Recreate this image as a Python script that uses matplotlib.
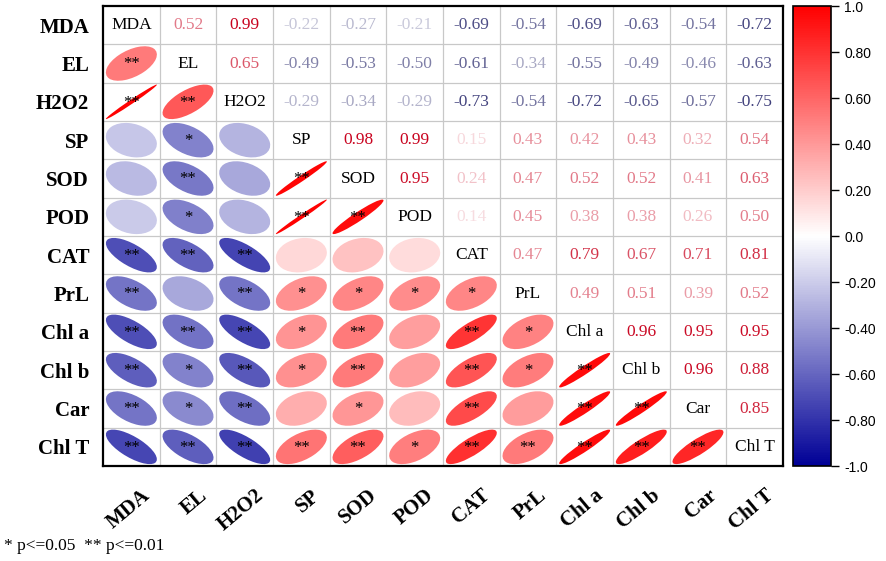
import numpy as np
import matplotlib.pyplot as plt
import matplotlib.transforms as mtransforms
from matplotlib.patches import Ellipse
from matplotlib.colors import LinearSegmentedColormap, Normalize
from matplotlib.colorbar import ColorbarBase

# ================= data =================
labels = ['MDA', 'EL', 'H2O2', 'SP', 'SOD', 'POD', 'CAT', 'PrL', 'Chl a', 'Chl b', 'Car', 'Chl T']

# upper triangle, row by row (values right of the diagonal)
upper_rows = [
    [0.52, 0.99, -0.22, -0.27, -0.21, -0.69, -0.54, -0.69, -0.63, -0.54, -0.72],
    [0.65, -0.49, -0.53, -0.50, -0.61, -0.34, -0.55, -0.49, -0.46, -0.63],
    [-0.29, -0.34, -0.29, -0.73, -0.54, -0.72, -0.65, -0.57, -0.75],
    [0.98, 0.99, 0.15, 0.43, 0.42, 0.43, 0.32, 0.54],
    [0.95, 0.24, 0.47, 0.52, 0.52, 0.41, 0.63],
    [0.14, 0.45, 0.38, 0.38, 0.26, 0.50],
    [0.47, 0.79, 0.67, 0.71, 0.81],
    [0.49, 0.51, 0.39, 0.52],
    [0.96, 0.95, 0.95],
    [0.96, 0.88],
    [0.85],
]

# significance marks, lower triangle row by row (left of the diagonal)
sig_rows = [
    [],
    ['**'],
    ['**', '**'],
    ['', '*', ''],
    ['', '**', '', '**'],
    ['', '*', '', '**', '**'],
    ['**', '**', '**', '', '', ''],
    ['**', '', '**', '*', '*', '*', '*'],
    ['**', '**', '**', '*', '**', '', '**', '*'],
    ['**', '*', '**', '*', '**', '', '**', '*', '**'],
    ['**', '*', '**', '', '*', '', '**', '', '**', '**'],
    ['**', '**', '**', '**', '**', '*', '**', '**', '**', '**', '**'],
]

cbar_ticks = [-1.0, -0.8, -0.6, -0.4, -0.2, 0.0, 0.2, 0.4, 0.6, 0.8, 1.0]
cbar_ticklabels = ['-1.0', '-0.80', '-0.60', '-0.40', '-0.20', '0.0', '0.20', '0.40', '0.60', '0.80', '1.0']

n = len(labels)
corr = np.eye(n)
for i, row in enumerate(upper_rows):
    for k, v in enumerate(row):
        j = i + 1 + k
        corr[i, j] = v
        corr[j, i] = v

# ================= style =================
serif = ['Liberation Serif', 'DejaVu Serif']
cmap = LinearSegmentedColormap.from_list('bwr_corr', ['#000096', '#ffffff', '#ff0000'])
# numbers use a slightly muted version of the same scale
text_cmap = LinearSegmentedColormap.from_list('txt_corr', ['#000050', '#ffffff', '#c8001c'])
norm = Normalize(-1, 1)

fig = plt.figure(figsize=(8.86, 5.61), dpi=100)
ax = fig.add_axes([0.1163, 0.1693, 0.7674, 0.82])

# grid lines
for k in range(1, n):
    ax.axhline(k, color='#c8c8c8', lw=0.9, zorder=1)
    ax.axvline(k, color='#c8c8c8', lw=0.9, zorder=1)

for i in range(n):
    for j in range(n):
        r = corr[i, j]
        cx, cy = j + 0.5, i + 0.5
        if i == j:
            ax.text(cx, cy, labels[i], ha='center', va='center', fontsize=12.5,
                    family=serif, color='black', zorder=4)
        elif j > i:
            ax.text(cx, cy, f'{r:.2f}', ha='center', va='center', fontsize=12.5,
                    family=serif, color=text_cmap(norm(r)), zorder=4)
        else:
            w = 0.9 * np.sqrt(1 + abs(r))
            h = 0.9 * np.sqrt(max(1 - abs(r), 0.01))
            # y axis is inverted: positive r must lean up to the right
            ang = -45 if r > 0 else 45
            ax.add_patch(Ellipse((cx, cy), w, h, angle=ang, facecolor=cmap(norm(r)),
                                 edgecolor='none', zorder=2))
            s = sig_rows[i][j]
            if s:
                ax.text(cx, cy + 0.02, s, ha='center', va='center', fontsize=12,
                        family=serif, color='black', zorder=5)

ax.set_xlim(0, n)
ax.set_ylim(n, 0)
ax.set_xticks(np.arange(n) + 0.5)
ax.set_yticks(np.arange(n) + 0.5)
ax.set_yticklabels(labels, family=serif, fontweight='bold', fontsize=15)
ax.set_xticklabels(labels, family=serif, fontweight='bold', fontsize=15,
                   rotation=40, ha='right', va='top', rotation_mode='anchor')
ax.tick_params(length=0, pad=10)
ax.tick_params(axis='x', pad=14)
shift = mtransforms.ScaledTranslation(10 / 100, 0, fig.dpi_scale_trans)
for t in ax.get_xticklabels():
    t.set_transform(t.get_transform() + shift)
for sp in ax.spines.values():
    sp.set_linewidth(1.6)
    sp.set_color('black')

# ================= colorbar =================
cax = fig.add_axes([0.895, 0.1693, 0.043, 0.82])
cb = ColorbarBase(cax, cmap=cmap, norm=norm, orientation='vertical')
cb.set_ticks(cbar_ticks)
cb.set_ticklabels(cbar_ticklabels)
cax.tick_params(labelsize=10, length=6, width=1, direction='out')
for t in cax.get_yticklabels():
    t.set_family(['Liberation Sans', 'DejaVu Sans'])
cb.outline.set_linewidth(1.2)

fig.text(0.005, 0.02, '* p<=0.05  ** p<=0.01', family=serif, fontsize=12.5,
         ha='left', va='baseline')

fig.savefig('out.png', dpi=100)
